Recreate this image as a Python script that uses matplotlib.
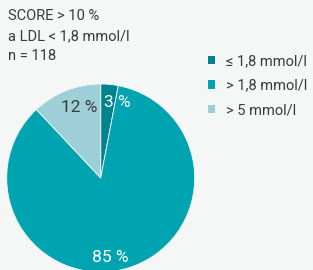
import matplotlib
matplotlib.use('Agg')
import matplotlib.pyplot as plt
from matplotlib.patches import Patch

plt.rcParams['font.family'] = ['Roboto', 'DejaVu Sans']

# Data
categories = ['≤ 1,8 mmol/l', '> 1,8 mmol/l', '> 5 mmol/l']
shares = [3, 85, 12]
colors = ['#00838f', '#00a4b0', '#9ecfd8']
label_colors = ['white', 'white', '#3a3a3a']
title_lines = ['SCORE > 10 %', 'a LDL < 1,8 mmol/l', 'n = 118']

bg = '#f4f7f6'
W, H = 313, 270
fig = plt.figure(figsize=(W / 100, H / 100), dpi=100, facecolor=bg)

# pie axes: centre (100.7, 178) px, radius 94 px
cx, cy, r = 100.7, 178, 94
ax = fig.add_axes([(cx - r) / W, (H - cy - r) / H, 2 * r / W, 2 * r / H])
ax.set_facecolor(bg)
wedges, _ = ax.pie(shares, colors=colors, startangle=90, counterclock=False,
                   radius=1, wedgeprops=dict(linewidth=0.6, edgecolor=bg))
ax.set_xlim(-1, 1)
ax.set_ylim(-1, 1)
ax.set_aspect('equal')
ax.axis('off')

# percentage labels
label_pos = [(0.18, 0.80), (0.10, -0.85), (-0.23, 0.755)]
for val, (x, y), c in zip(shares, label_pos, label_colors):
    ax.text(x, y, f'{val} %', ha='center', va='center', fontsize=12.5, color=c)

# title text
for i, line in enumerate(title_lines):
    fig.text(8 / W, 1 - (16.5 + 20 * i) / H, line, ha='left', va='center',
             fontsize=10.5, color='#3a3a3a')

# legend
handles = [Patch(facecolor=c, edgecolor='none') for c in colors]
fig.legend(handles, categories, loc='upper left', bbox_to_anchor=(198 / W, 1 - 44 / H),
           frameon=False, fontsize=10.5, handlelength=0.5, handleheight=0.5,
           handletextpad=0.75, labelspacing=0.72, labelcolor='#3a3a3a', borderpad=0.2)

plt.savefig('out.png', dpi=100, facecolor=bg)
